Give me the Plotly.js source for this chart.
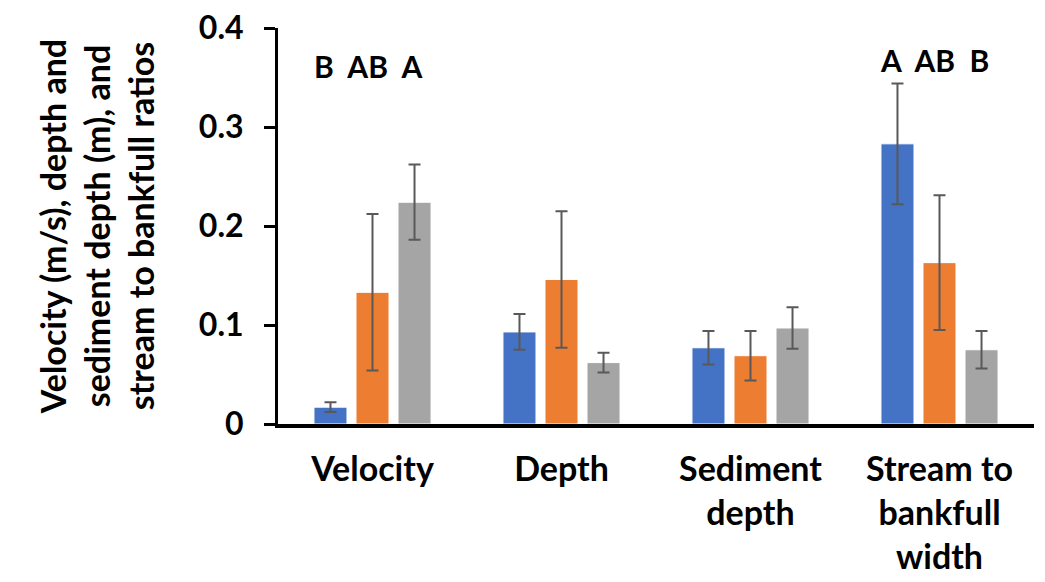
<!DOCTYPE html>
<html>
<head>
<meta charset="utf-8">
<script src="https://cdn.plot.ly/plotly-3.0.1.min.js"></script>
<style>html,body{margin:0;padding:0;background:#fff;}#chart{width:1045px;height:582px;}</style>
</head>
<body>
<div id="chart"></div>
<script>
var categories = ['Velocity', 'Depth', 'Sediment<br>depth', 'Stream to<br>bankfull<br>width'];
var series1 = [0.017, 0.093, 0.077, 0.283];
var series1Err = [0.005, 0.018, 0.017, 0.061];
var series2 = [0.133, 0.146, 0.069, 0.163];
var series2Err = [0.079, 0.069, 0.025, 0.068];
var series3 = [0.224, 0.062, 0.097, 0.075];
var series3Err = [0.038, 0.010, 0.021, 0.019];
var yTicks = [0, 0.1, 0.2, 0.3, 0.4];
var yTickText = ['0', '0.1', '0.2', '0.3', '0.4'];
var groupLetters = [
  {cat: 'Velocity', y: 0.362, text: 'B  AB  A'},
  {cat: 'Stream to<br>bankfull<br>width', y: 0.368, text: 'A  AB  B'}
];

var FONT = 'Lato, "Open Sans", sans-serif';
var errStyle = {type: 'data', visible: true, color: '#595959', thickness: 2, width: 6};

function bar(name, y, err, color) {
  return {
    type: 'bar', name: name, x: categories, y: y,
    marker: {color: color, line: {color: '#ffffff', width: 1}},
    error_y: Object.assign({array: err}, errStyle),
    showlegend: false
  };
}

var data = [
  bar('Series 1', series1, series1Err, '#4472C4'),
  bar('Series 2', series2, series2Err, '#ED7D31'),
  bar('Series 3', series3, series3Err, '#A5A5A5')
];

var layout = {
  width: 1045, height: 582,
  margin: {l: 278, r: 11, t: 28, b: 158},
  paper_bgcolor: '#ffffff', plot_bgcolor: '#ffffff',
  barmode: 'group', bargap: 0.333, bargroupgap: 0.214,
  font: {family: FONT, color: '#000000'},
  xaxis: {
    type: 'category', categoryorder: 'array', categoryarray: categories,
    showline: true, linecolor: '#000000', linewidth: 4,
    ticks: '', showgrid: false, zeroline: false,
    ticklabelstandoff: 12,
    tickfont: {family: FONT, size: 34, weight: 700, color: '#000000'},
    automargin: false
  },
  yaxis: {
    range: [0, 0.4], tickvals: yTicks, ticktext: yTickText,
    showline: true, linecolor: '#000000', linewidth: 3,
    ticks: 'outside', ticklen: 11, tickwidth: 3, tickcolor: '#000000',
    showgrid: false, zeroline: false,
    ticklabelstandoff: 14,
    tickfont: {family: FONT, size: 32, weight: 700, color: '#000000'},
    title: {
      text: 'Velocity (m/s), depth and<br>sediment depth (m), and<br>stream to bankfull ratios',
      font: {family: FONT, size: 34, weight: 700, color: '#000000'},
      standoff: 34
    },
    automargin: false
  },
  annotations: groupLetters.map(function (g) {
    return {
      x: g.cat, y: g.y, xref: 'x', yref: 'y', text: g.text, showarrow: false,
      font: {family: FONT, size: 30, weight: 700, color: '#000000'},
      xanchor: 'center', yanchor: 'middle', xshift: -5
    };
  })
};

Plotly.newPlot('chart', data, layout, {staticPlot: true, displayModeBar: false});
</script>
</body>
</html>
